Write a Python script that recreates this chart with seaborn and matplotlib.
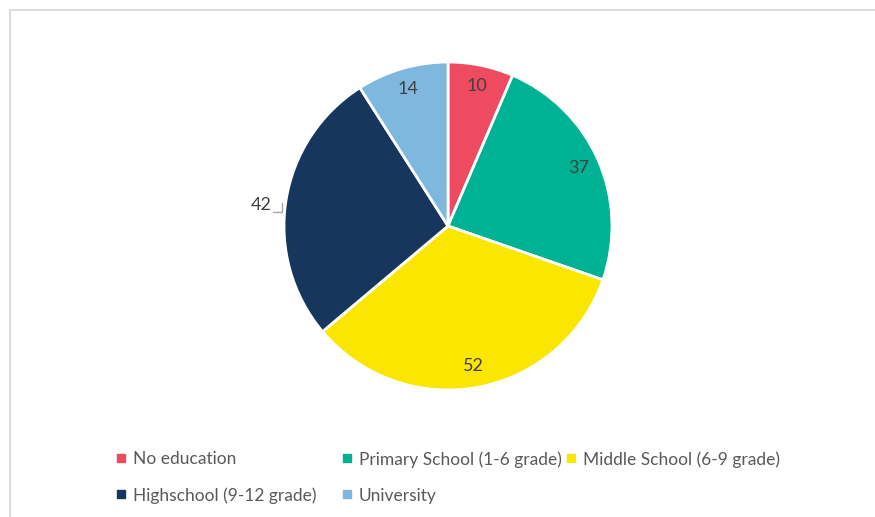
import matplotlib
matplotlib.use("Agg")
import matplotlib.pyplot as plt
from matplotlib.lines import Line2D
import numpy as np
import seaborn as sns

categories = [
    "No education",
    "Primary School (1-6 grade)",
    "Middle School (6-9 grade)",
    "Highschool (9-12 grade)",
    "University",
]
counts = [10, 37, 52, 42, 14]
colors = ["#EF4B60", "#00B294", "#FAE600", "#17365D", "#7FB8DE"]

sns.set_theme(style="white")
plt.rcParams["font.family"] = ["Lato", "DejaVu Sans"]

W, H = 875, 517
fig = plt.figure(figsize=(W / 100, H / 100), dpi=100)
fig.patch.set_facecolor("white")

# pie area: centre (448, 226) px, radius 164 px
cx, cy, r = 448, 226, 164
ax = fig.add_axes([(cx - r) / W, (H - cy - r) / H, 2 * r / W, 2 * r / H])

palette = sns.color_palette(colors)
wedges, _ = ax.pie(
    counts,
    colors=palette,
    startangle=90,
    counterclock=False,
    radius=1,
    wedgeprops=dict(edgecolor="white", linewidth=2),
)
ax.set_xlim(-1, 1)
ax.set_ylim(-1, 1)
ax.set_aspect("equal")
ax.axis("off")

label_size = 13
total = sum(counts)
cum = 0
for i, v in enumerate(counts):
    mid = 90 - (cum + v / 2) / total * 360
    cum += v
    a = np.deg2rad(mid)
    if categories[i].startswith("Highschool"):
        # label sits outside with a small leader line
        ax.text(-1.14, 0.13, f"{v}", ha="center", va="center",
                fontsize=label_size, color="#404040", clip_on=False)
        ax.plot([-1.07, -1.01, -1.01], [0.085, 0.085, 0.14], color="#A6A6A6",
                lw=1, clip_on=False)
        continue
    rr = 0.87
    ax.text(rr * np.cos(a), rr * np.sin(a), f"{v}", ha="center", va="center",
            fontsize=label_size, color="#404040")

# legend laid out row-wise in three columns at fixed x positions
handles = [Line2D([], [], marker="s", linestyle="none", markersize=5.5,
                  markerfacecolor=c, markeredgecolor=c) for c in colors]
columns = [([0, 3], 117), ([1, 4], 343), ([2], 567)]
for idx, x0 in columns:
    leg = fig.legend(
        [handles[i] for i in idx],
        [categories[i] for i in idx],
        ncol=1,
        loc="upper left",
        bbox_to_anchor=(x0 / W, 1 - 451 / H),
        frameon=False,
        fontsize=12.5,
        handlelength=0.5,
        handletextpad=0.4,
        labelspacing=1.15,
        borderaxespad=0,
        borderpad=0,
    )
    for t in leg.get_texts():
        t.set_color("#595959")

# chart frame (light grey), open toward the right and bottom edges
fig.add_artist(Line2D([9.5 / W, 1], [1 - 10 / H, 1 - 10 / H],
                      transform=fig.transFigure, color="#D9D9D9", lw=1.3))
fig.add_artist(Line2D([9.5 / W, 9.5 / W], [0, 1 - 10 / H],
                      transform=fig.transFigure, color="#D9D9D9", lw=1.3))

fig.savefig("out.png", dpi=100, facecolor="white")
